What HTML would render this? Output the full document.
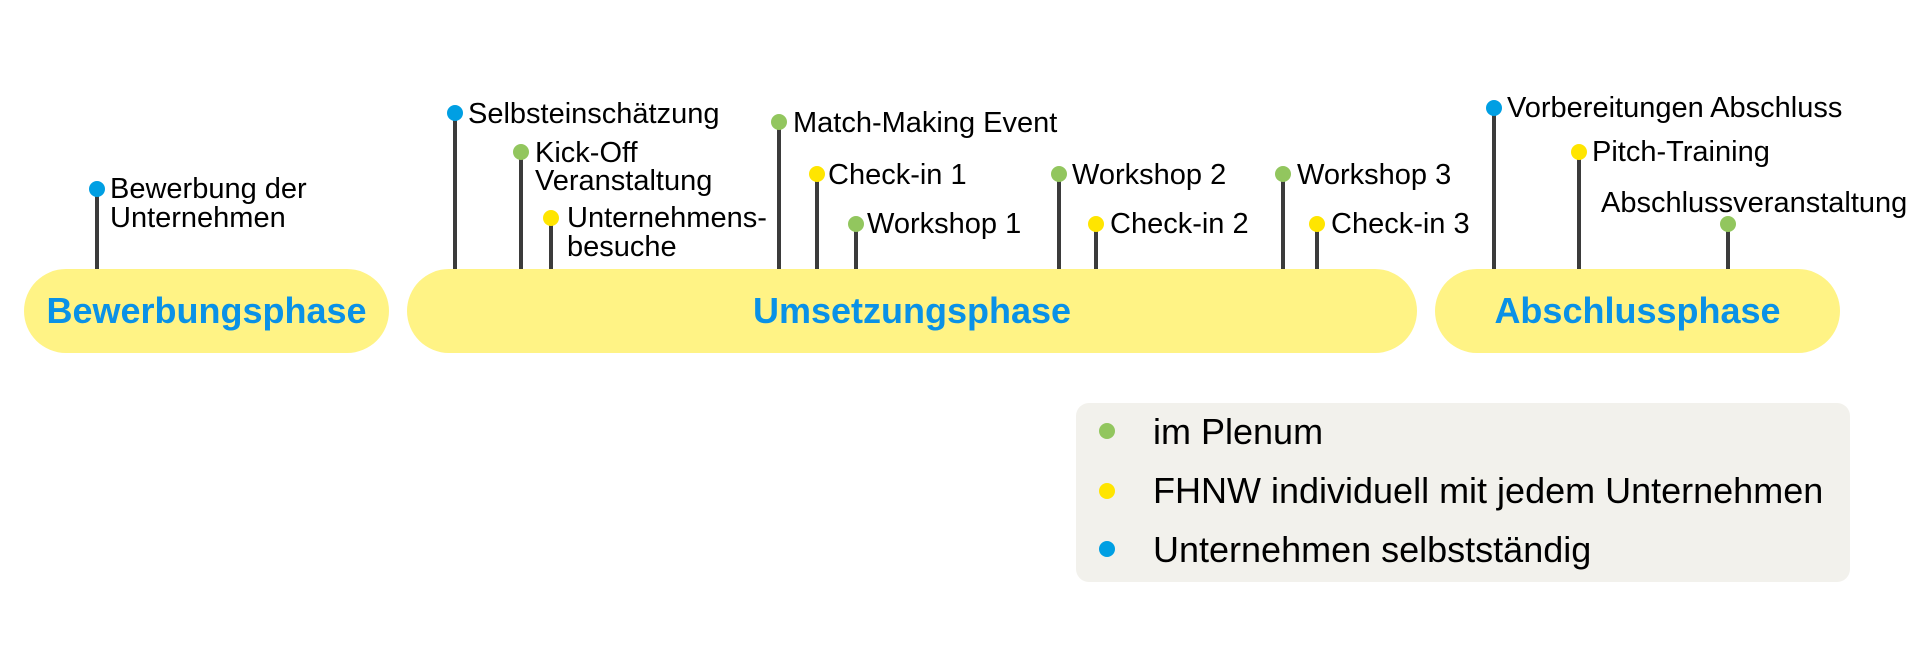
<!DOCTYPE html>
<html><head><meta charset="utf-8"><style>
html,body{margin:0;padding:0;background:#fff;width:1920px;height:646px;overflow:hidden}
svg{display:block}
text{font-family:"Liberation Sans",Arial,sans-serif}
</style></head><body>
<svg width="1920" height="646" viewBox="0 0 1920 646" xmlns="http://www.w3.org/2000/svg">
<rect width="1920" height="646" fill="#fff"/>
<g stroke="#3b3b3b" stroke-width="4">
<line x1="97" y1="189" x2="97" y2="272"/>
<line x1="455" y1="113" x2="455" y2="272"/>
<line x1="521" y1="152" x2="521" y2="272"/>
<line x1="551" y1="218" x2="551" y2="272"/>
<line x1="779" y1="122" x2="779" y2="272"/>
<line x1="817" y1="174" x2="817" y2="272"/>
<line x1="856" y1="224" x2="856" y2="272"/>
<line x1="1059" y1="174" x2="1059" y2="272"/>
<line x1="1096" y1="224" x2="1096" y2="272"/>
<line x1="1283" y1="174" x2="1283" y2="272"/>
<line x1="1317" y1="224" x2="1317" y2="272"/>
<line x1="1494" y1="108" x2="1494" y2="272"/>
<line x1="1579" y1="152" x2="1579" y2="272"/>
<line x1="1728" y1="224" x2="1728" y2="272"/>
</g>
<g>
<circle cx="97" cy="189" r="8" fill="#009fe3"/>
<circle cx="455" cy="113" r="8" fill="#009fe3"/>
<circle cx="521" cy="152" r="8" fill="#92c65e"/>
<circle cx="551" cy="218" r="8" fill="#ffe500"/>
<circle cx="779" cy="122" r="8" fill="#92c65e"/>
<circle cx="817" cy="174" r="8" fill="#ffe500"/>
<circle cx="856" cy="224" r="8" fill="#92c65e"/>
<circle cx="1059" cy="174" r="8" fill="#92c65e"/>
<circle cx="1096" cy="224" r="8" fill="#ffe500"/>
<circle cx="1283" cy="174" r="8" fill="#92c65e"/>
<circle cx="1317" cy="224" r="8" fill="#ffe500"/>
<circle cx="1494" cy="108" r="8" fill="#009fe3"/>
<circle cx="1579" cy="152" r="8" fill="#ffe500"/>
<circle cx="1728" cy="224" r="8" fill="#92c65e"/>
</g>
<g font-size="29" fill="#000">
<text x="110" y="198">Bewerbung der</text>
<text x="110" y="227">Unternehmen</text>
<text x="468" y="123">Selbsteinschätzung</text>
<text x="535" y="162">Kick-Off</text>
<text x="535" y="190">Veranstaltung</text>
<text x="567" y="227">Unternehmens-</text>
<text x="567" y="256">besuche</text>
<text x="793" y="132">Match-Making Event</text>
<text x="828" y="184">Check-in 1</text>
<text x="867" y="233">Workshop 1</text>
<text x="1072" y="184">Workshop 2</text>
<text x="1110" y="233">Check-in 2</text>
<text x="1297" y="184">Workshop 3</text>
<text x="1331" y="233">Check-in 3</text>
<text x="1507" y="117">Vorbereitungen Abschluss</text>
<text x="1592" y="161">Pitch-Training</text>
<text x="1601" y="212">Abschlussveranstaltung</text>
</g>
<g fill="#fff385">
<rect x="24" y="269" width="365" height="84" rx="42" ry="42"/>
<rect x="407" y="269" width="1010" height="84" rx="42" ry="42"/>
<rect x="1435" y="269" width="405" height="84" rx="42" ry="42"/>
</g>
<g font-size="36" font-weight="bold" fill="#0a91e6" text-anchor="middle">
<text x="206.5" y="323">Bewerbungsphase</text>
<text x="912" y="323">Umsetzungsphase</text>
<text x="1637.5" y="323">Abschlussphase</text>
</g>
<rect x="1076" y="403" width="774" height="179" rx="13" ry="13" fill="#f2f1ec"/>
<circle cx="1107" cy="431" r="8" fill="#92c65e"/>
<circle cx="1107" cy="491" r="8" fill="#ffe500"/>
<circle cx="1107" cy="549" r="8" fill="#009fe3"/>
<g font-size="36" fill="#000">
<text x="1153" y="444">im Plenum</text>
<text x="1153" y="503">FHNW individuell mit jedem Unternehmen</text>
<text x="1153" y="562">Unternehmen selbstständig</text>
</g>
</svg>
</body></html>
